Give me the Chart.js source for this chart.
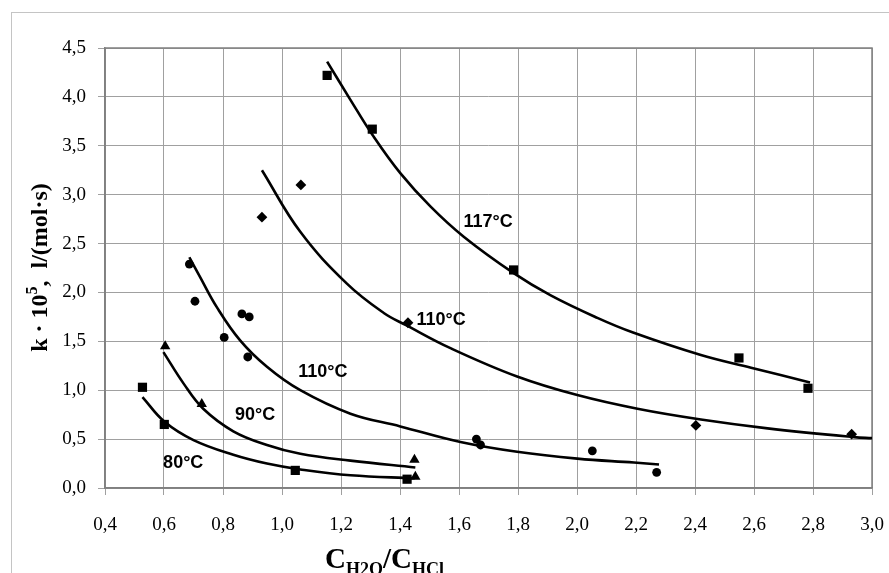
<!DOCTYPE html>
<html>
<head>
<meta charset="utf-8">
<script src="https://cdn.jsdelivr.net/npm/chart.js@4/dist/chart.umd.min.js"></script>
<style>
  html, body { margin: 0; padding: 0; background: #fff; }
  #wrap { width: 889px; height: 573px; position: relative; }
</style>
</head>
<body>
<div id="wrap"><canvas id="c" width="889" height="573"></canvas></div>
<script>
// ---- Data ----
// Fitted curves
const curve117X = [1.153, 1.232, 1.307, 1.401, 1.503, 1.616, 1.784, 1.911, 2.069, 2.19, 2.42, 2.59, 2.79];
const curve117Y = [4.36, 3.97, 3.61, 3.22, 2.88, 2.57, 2.20, 1.97, 1.74, 1.59, 1.36, 1.23, 1.08];

const curve110aX = [0.932, 1.062, 1.22, 1.345, 1.424, 1.571, 1.797, 2.001, 2.205, 2.42, 2.646, 2.94, 3.0];
const curve110aY = [3.25, 2.62, 2.09, 1.79, 1.66, 1.43, 1.14, 0.95, 0.81, 0.70, 0.61, 0.52, 0.51];

const curve110bX = [0.686, 0.722, 0.779, 0.858, 0.949, 1.062, 1.232, 1.401, 1.605, 1.797, 2.001, 2.193, 2.278];
const curve110bY = [2.36, 2.16, 1.85, 1.51, 1.24, 1.00, 0.76, 0.63, 0.47, 0.37, 0.30, 0.26, 0.24];

const curve90X = [0.598, 0.666, 0.733, 0.835, 0.949, 1.062, 1.232, 1.452];
const curve90Y = [1.39, 1.07, 0.81, 0.58, 0.44, 0.35, 0.28, 0.21];

const curve80X = [0.527, 0.601, 0.70, 0.835, 0.949, 1.062, 1.232, 1.45];
const curve80Y = [0.93, 0.68, 0.49, 0.34, 0.25, 0.19, 0.13, 0.10];

// Measured points
const pts117X = [1.153, 1.306, 1.785, 2.549, 2.783];
const pts117Y = [4.22, 3.67, 2.23, 1.33, 1.02];

const pts110aX = [0.932, 1.064, 1.427, 2.403, 2.931];
const pts110aY = [2.77, 3.10, 1.69, 0.64, 0.55];

const pts110bX = [0.686, 0.705, 0.804, 0.864, 0.889, 0.884, 1.659, 1.673, 2.052, 2.27];
const pts110bY = [2.29, 1.91, 1.54, 1.78, 1.75, 1.34, 0.50, 0.44, 0.38, 0.16];

const pts90X = [0.604, 0.728, 1.449, 1.452];
const pts90Y = [1.45, 0.86, 0.29, 0.115];

const pts80X = [0.527, 0.601, 1.045, 1.424];
const pts80Y = [1.03, 0.65, 0.18, 0.09];

// Curve labels and where they sit (data coordinates of left/middle of text)
const curveLabels = ['117°C', '110°C', '110°C', '90°C', '80°C'];
const labelX = [1.615, 1.456, 1.055, 0.841, 0.597];
const labelY = [2.725, 1.718, 1.191, 0.746, 0.251];

// Axes
const xMin = 0.4, xMax = 3.0, xStep = 0.2;
const yMin = 0.0, yMax = 4.5, yStep = 0.5;
const xTitleMain = ['C', '/', 'C'];
const xTitleSub = ['H2O', '', 'HCl'];
const yTitleA = 'k · 10';
const yTitleSup = '5';
const yTitleB = ',  l/(mol·s)';

function zip(xs, ys) { return xs.map((x, i) => ({ x: x, y: ys[i] })); }

function curveDs(xs, ys) {
  return { type: 'line', data: zip(xs, ys), borderColor: '#000', borderWidth: 2.6,
    pointRadius: 0, fill: false, tension: 0.4, order: 2 };
}
function pointDs(xs, ys, style, r) {
  return { type: 'scatter', data: zip(xs, ys), pointStyle: style, pointRadius: r,
    pointBackgroundColor: '#000', pointBorderColor: '#000', pointBorderWidth: 0,
    showLine: false, order: 1 };
}

const fmt = v => (Math.round(v * 10) / 10).toFixed(1).replace('.', ',');

const decor = {
  id: 'decor',
  beforeDraw(chart) {
    const ctx = chart.ctx;
    ctx.save();
    ctx.fillStyle = '#fff';
    ctx.fillRect(0, 0, chart.width, chart.height);
    ctx.strokeStyle = '#c4c4c4';
    ctx.lineWidth = 1;
    ctx.strokeRect(11.5, 12.5, 1000, 1000);
    ctx.restore();
  },
  beforeDatasetsDraw(chart) {
    const ctx = chart.ctx, a = chart.chartArea;
    ctx.save();
    ctx.strokeStyle = '#808080';
    ctx.lineWidth = 1.5;
    ctx.strokeRect(a.left, a.top, a.right - a.left, a.bottom - a.top);
    ctx.restore();
  },
  afterDatasetsDraw(chart) {
    const ctx = chart.ctx, xs = chart.scales.x, ys = chart.scales.y;
    ctx.save();
    // curve labels
    ctx.fillStyle = '#000';
    ctx.font = 'bold 18px "Liberation Sans", Arial, sans-serif';
    ctx.textAlign = 'left';
    ctx.textBaseline = 'middle';
    curveLabels.forEach((t, i) => {
      ctx.fillText(t, xs.getPixelForValue(labelX[i]), ys.getPixelForValue(labelY[i]));
    });

    // x axis title with subscripts
    ctx.textBaseline = 'alphabetic';
    let x = 325;
    const base = 568;
    for (let i = 0; i < xTitleMain.length; i++) {
      ctx.font = 'bold 29px "Liberation Serif", "Times New Roman", serif';
      ctx.fillText(xTitleMain[i], x, base);
      x += ctx.measureText(xTitleMain[i]).width;
      if (xTitleSub[i]) {
        ctx.font = 'bold 18px "Liberation Serif", "Times New Roman", serif';
        ctx.fillText(xTitleSub[i], x, base + 7);
        x += ctx.measureText(xTitleSub[i]).width;
      }
    }

    // y axis title with superscript
    const fA = 'bold 24px "Liberation Serif", "Times New Roman", serif';
    const fS = 'bold 16px "Liberation Serif", "Times New Roman", serif';
    ctx.font = fA; const wA = ctx.measureText(yTitleA).width; const wB = ctx.measureText(yTitleB).width;
    ctx.font = fS; const wS = ctx.measureText(yTitleSup).width;
    const total = wA + wS + wB;
    ctx.translate(47, 267.5 + total / 2);
    ctx.rotate(-Math.PI / 2);
    ctx.font = fA; ctx.fillText(yTitleA, 0, 0);
    ctx.font = fS; ctx.fillText(yTitleSup, wA, -10);
    ctx.font = fA; ctx.fillText(yTitleB, wA + wS, 0);
    ctx.restore();
  }
};

const gridColor = '#a0a0a0';
const tickFont = { family: '"Liberation Serif", "Times New Roman", serif', size: 19 };

new Chart(document.getElementById('c'), {
  type: 'scatter',
  data: {
    datasets: [
      curveDs(curve117X, curve117Y),
      curveDs(curve110aX, curve110aY),
      curveDs(curve110bX, curve110bY),
      curveDs(curve90X, curve90Y),
      curveDs(curve80X, curve80Y),
      pointDs(pts117X, pts117Y, 'rect', 6.5),
      pointDs(pts110aX, pts110aY, 'rectRot', 5.4),
      pointDs(pts110bX, pts110bY, 'circle', 4.4),
      pointDs(pts90X, pts90Y, 'triangle', 6),
      pointDs(pts80X, pts80Y, 'rect', 6.5)
    ]
  },
  options: {
    responsive: false,
    animation: false,
    devicePixelRatio: 1,
    layout: { padding: { top: 48, right: 17, left: 0, bottom: 0 } },
    plugins: { legend: { display: false }, tooltip: { enabled: false } },
    scales: {
      x: {
        type: 'linear', min: xMin, max: xMax,
        afterFit(s) { s.height = 85; s.paddingLeft = 0; s.paddingRight = 0; },
        ticks: { stepSize: xStep, color: '#000', font: tickFont, padding: 19, maxRotation: 0,
          callback: v => fmt(v) },
        grid: { color: gridColor, lineWidth: 1, tickLength: 7, drawTicks: true },
        border: { color: '#808080', width: 1.5 }
      },
      y: {
        type: 'linear', min: yMin, max: yMax,
        afterFit(s) { s.width = 105; s.paddingTop = 0; s.paddingBottom = 0; },
        ticks: { stepSize: yStep, color: '#000', font: tickFont, padding: 12,
          callback: v => fmt(v) },
        grid: { color: gridColor, lineWidth: 1, tickLength: 7, drawTicks: true },
        border: { color: '#808080', width: 1.5 }
      }
    }
  },
  plugins: [decor]
});
</script>
</body>
</html>
